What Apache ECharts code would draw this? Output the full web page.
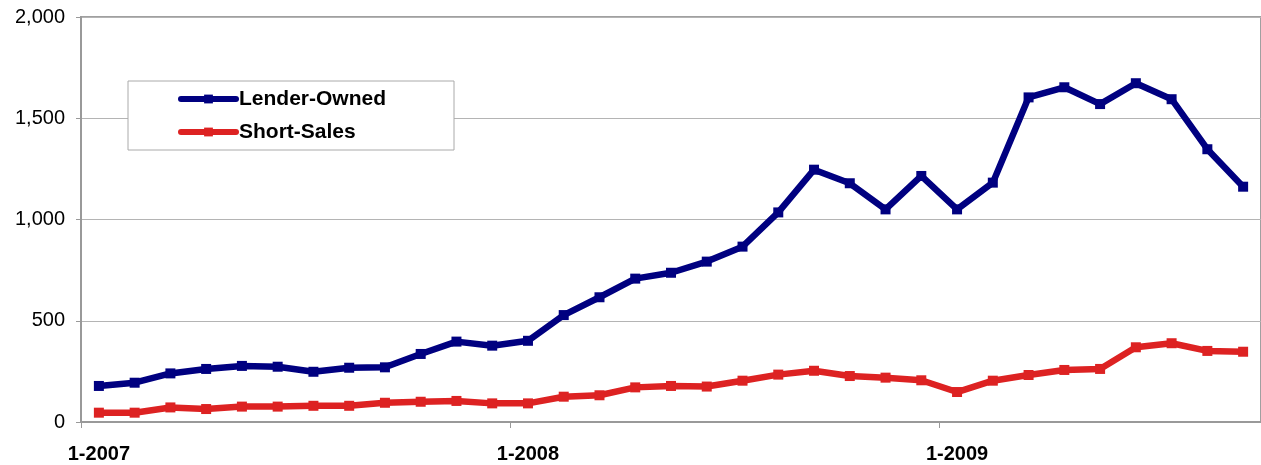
<!DOCTYPE html>
<html>
<head>
<meta charset="utf-8">
<script src="https://cdn.jsdelivr.net/npm/echarts@6/dist/echarts.min.js"></script>
<style>
html,body{margin:0;padding:0;background:#fff;}
#chart{width:1261px;height:465px;}
</style>
</head>
<body>
<div id="chart"></div>
<script>
var categories = [
  '1-2007','2-2007','3-2007','4-2007','5-2007','6-2007','7-2007','8-2007','9-2007','10-2007','11-2007','12-2007',
  '1-2008','2-2008','3-2008','4-2008','5-2008','6-2008','7-2008','8-2008','9-2008','10-2008','11-2008','12-2008',
  '1-2009','2-2009','3-2009','4-2009','5-2009','6-2009','7-2009','8-2009','9-2009'
];
var lenderOwned = [178,194,240,262,277,273,248,268,270,336,397,377,401,528,616,708,737,792,866,1035,1246,1179,1050,1215,1050,1182,1603,1653,1570,1673,1594,1347,1162];
var shortSales = [46,46,72,64,76,76,80,80,95,100,104,92,92,125,132,171,178,175,204,234,253,227,219,206,148,204,232,257,262,369,389,351,347];
var yTicks = [0,500,1000,1500,2000];

var chart = echarts.init(document.getElementById('chart'));
chart.setOption({
  animation: false,
  backgroundColor: '#fff',
  grid: {left: 81, top: 17, width: 1182, height: 405, show: true, borderColor: '#a0a0a0', borderWidth: 2, backgroundColor: '#fff'},
  legend: {
    orient: 'vertical', left: 128, top: 81,
    backgroundColor: '#fff', borderColor: '#aaa', borderWidth: 1,
    padding: [6, 68, 6, 50],
    itemWidth: 55, itemHeight: 11, itemGap: 9,
    lineStyle: {width: 6, cap: 'round'},
    textStyle: {fontFamily: 'Liberation Sans, Arial, sans-serif', fontSize: 21, fontWeight: 'bold', color: '#000', lineHeight: 24, padding: [0,0,0,-2]},
    data: ['Lender-Owned', 'Short-Sales']
  },
  xAxis: {
    type: 'category', data: categories, boundaryGap: true,
    axisLine: {lineStyle: {color: '#999', width: 2}},
    axisTick: {show: true, length: 6, lineStyle: {color: '#999', width: 1}, interval: function(i){return i % 12 === 0;}},
    axisLabel: {interval: function(i){return i % 12 === 0;}, margin: 22, fontFamily: 'Liberation Sans, Arial, sans-serif', fontSize: 20, fontWeight: 'bold', color: '#000'},
    splitLine: {show: false}
  },
  yAxis: {
    type: 'value', min: yTicks[0], max: yTicks[yTicks.length-1], interval: 500,
    axisLine: {show: true, lineStyle: {color: '#999', width: 2}},
    axisTick: {show: true, length: 5, lineStyle: {color: '#999'}},
    axisLabel: {margin: 16, fontFamily: 'Liberation Sans, Arial, sans-serif', fontSize: 20, color: '#000',
      formatter: function(v){return v.toLocaleString('en-US');}},
    splitLine: {lineStyle: {color: '#b4b4b4', width: 1}}
  },
  series: [
    {name: 'Lender-Owned', type: 'line', data: lenderOwned, symbol: 'rect', symbolSize: 10, showAllSymbol: true,
      lineStyle: {color: '#000080', width: 6.5, cap: 'round', join: 'round'}, itemStyle: {color: '#000080'}},
    {name: 'Short-Sales', type: 'line', data: shortSales, symbol: 'rect', symbolSize: 10, showAllSymbol: true,
      lineStyle: {color: '#dd2222', width: 6.5, cap: 'round', join: 'round'}, itemStyle: {color: '#dd2222'}}
  ]
});
</script>
</body>
</html>
